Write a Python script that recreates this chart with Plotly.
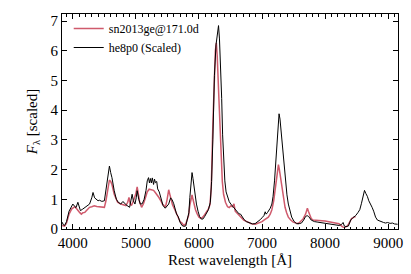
import plotly.graph_objects as go

# he8p0 (Scaled) model spectrum
model_wave = [3830, 3850, 3870, 3900, 3940, 3980, 4000, 4030, 4050, 4080, 4100, 4120, 4150, 4190, 4230,
              4265, 4300, 4320, 4345, 4370, 4400, 4420, 4460, 4500, 4525, 4555, 4580, 4600, 4620, 4656,
              4690, 4720, 4760, 4790, 4810, 4840, 4865, 4900, 4920, 4940, 4960, 4985, 5005, 5020, 5045,
              5070, 5100, 5130, 5160, 5180, 5200, 5215, 5230, 5245, 5260, 5280, 5295, 5310, 5330, 5345,
              5370, 5390, 5410, 5430, 5465, 5490, 5520, 5550, 5575, 5600, 5620, 5645, 5670, 5700, 5730,
              5760, 5790, 5810, 5840, 5855, 5875, 5890, 5905, 5920, 5940, 5960, 5985, 6010, 6040, 6065,
              6090, 6120, 6150, 6180, 6200, 6220, 6245, 6270, 6290, 6310, 6325, 6340, 6360, 6375, 6395,
              6410, 6430, 6453, 6480, 6505, 6530, 6560, 6585, 6610, 6635, 6660, 6690, 6715, 6750, 6780,
              6815, 6850, 6890, 6930, 6975, 7000, 7030, 7050, 7065, 7085, 7105, 7130, 7156, 7175, 7198,
              7215, 7234, 7255, 7270, 7285, 7302, 7320, 7340, 7360, 7375, 7395, 7417, 7445, 7470, 7510,
              7547, 7590, 7625, 7660, 7690, 7715, 7740, 7780, 7830, 7886, 7950, 8040, 8130, 8220, 8260,
              8285, 8305, 8330, 8370, 8406, 8440, 8484, 8520, 8550, 8575, 8600, 8625, 8645, 8670, 8693,
              8720, 8745, 8770, 8800, 8830, 8875, 8927, 8960, 8990, 9030, 9070, 9100, 9150]
model_flux = [0.23, 0.14, 0.12, 0.25, 0.6, 0.79, 0.84, 0.76, 0.72, 0.9, 0.75, 0.62, 0.66, 0.72, 0.78,
              0.84, 1.05, 1.23, 1.05, 1.0, 0.95, 0.97, 0.93, 0.95, 1.29, 1.8, 2.12, 1.9, 1.73, 1.29,
              1.0, 0.9, 0.84, 0.92, 0.9, 0.82, 0.79, 0.73, 0.95, 1.17, 0.95, 0.84, 1.05, 1.29, 1.0,
              0.84, 0.85, 1.0, 1.3, 1.62, 1.73, 1.55, 1.7, 1.55, 1.72, 1.5, 1.68, 1.56, 1.6, 1.35,
              1.25, 1.06, 0.9, 0.79, 0.7, 0.75, 0.84, 1.05, 0.98, 0.85, 0.67, 0.5, 0.42, 0.23, 0.12,
              0.09, 0.1, 0.25, 0.55, 1.06, 1.55, 1.9, 1.7, 1.45, 1.1, 0.84, 0.6, 0.42, 0.33, 0.34,
              0.42, 0.52, 0.65, 0.9, 1.6, 3.0, 5.16, 6.2, 6.6, 6.85, 6.4, 5.7, 4.4, 3.17, 2.2,
              1.62, 1.25, 1.06, 0.92, 0.84, 0.78, 0.68, 0.62, 0.58, 0.51, 0.5, 0.4, 0.32, 0.25, 0.22,
              0.18, 0.17, 0.18, 0.24, 0.32, 0.38, 0.45, 0.58, 0.5, 0.55, 0.6, 0.7, 0.84, 1.1, 1.62,
              2.2, 2.95, 3.6, 3.88, 3.7, 3.28, 2.9, 2.39, 1.9, 1.5, 1.15, 0.84, 0.6, 0.4, 0.25,
              0.18, 0.18, 0.2, 0.3, 0.42, 0.45, 0.42, 0.3, 0.25, 0.23, 0.21, 0.18, 0.15, 0.12, 0.15,
              0.22, 0.1, 0.08, 0.1, 0.3, 0.38, 0.45, 0.55, 0.65, 0.85, 1.1, 1.3, 1.2, 1.1, 0.95,
              0.85, 0.73, 0.6, 0.4, 0.3, 0.25, 0.22, 0.2, 0.22, 0.19, 0.2, 0.17, 0.16]

# sn2013ge@171.0d observed spectrum
obs_wave = [3830, 3870, 3900, 3940, 3980, 4030, 4060, 4080, 4110, 4135, 4160, 4190, 4230, 4265, 4300,
            4340, 4380, 4420, 4460, 4500, 4525, 4550, 4580, 4600, 4620, 4656, 4690, 4710, 4760, 4800,
            4840, 4870, 4890, 4910, 4930, 4970, 5000, 5020, 5040, 5060, 5090, 5120, 5155, 5180, 5210,
            5250, 5280, 5310, 5340, 5365, 5395, 5420, 5450, 5470, 5495, 5520, 5540, 5560, 5580, 5610,
            5645, 5675, 5700, 5730, 5760, 5790, 5810, 5835, 5855, 5875, 5890, 5905, 5920, 5945, 5970,
            6000, 6030, 6060, 6090, 6120, 6150, 6175, 6195, 6220, 6240, 6260, 6275, 6290, 6312, 6330,
            6350, 6370, 6390, 6420, 6453, 6480, 6505, 6530, 6555, 6575, 6610, 6640, 6670, 6710, 6770,
            6830, 6895, 6950, 7000, 7025, 7060, 7100, 7130, 7156, 7185, 7208, 7235, 7260, 7275, 7286,
            7305, 7323, 7345, 7365, 7390, 7417, 7455, 7495, 7540, 7573, 7610, 7651, 7690, 7719, 7735,
            7755, 7780, 7807, 7850, 7900, 7950, 8000, 8040, 8080, 8120, 8170, 8220, 8276, 8310, 8354,
            8380, 8420, 8460, 8484]
obs_flux = [0.12, 0.1, 0.2, 0.5, 0.67, 0.75, 0.68, 0.62, 0.55, 0.5, 0.55, 0.56, 0.66, 0.73, 0.75,
            0.78, 0.76, 0.75, 0.74, 0.73, 0.95, 1.3, 1.65, 1.6, 1.5, 1.17, 1.0, 0.9, 0.84, 0.82,
            0.79, 0.9, 1.06, 0.85, 0.79, 1.0, 1.2, 1.42, 1.15, 0.9, 0.73, 0.85, 1.08, 1.25, 1.34,
            1.32, 1.3, 1.22, 1.15, 1.06, 0.95, 0.84, 0.78, 0.75, 1.0, 1.32, 1.15, 0.95, 0.82, 0.68,
            0.5, 0.35, 0.25, 0.2, 0.12, 0.17, 0.28, 0.45, 0.8, 1.05, 1.15, 1.0, 0.86, 0.65, 0.52,
            0.4, 0.36, 0.4, 0.48, 0.56, 0.68, 0.82, 1.4, 3.5, 5.2, 6.0, 6.27, 5.8, 4.6, 3.5,
            2.4, 1.6, 1.17, 0.9, 0.75, 0.72, 0.78, 0.75, 0.85, 0.6, 0.52, 0.45, 0.38, 0.3, 0.24,
            0.18, 0.16, 0.2, 0.25, 0.29, 0.33, 0.4, 0.5, 0.65, 0.95, 1.29, 1.8, 2.17, 2.0, 1.84,
            1.5, 1.17, 0.92, 0.73, 0.55, 0.4, 0.3, 0.23, 0.2, 0.18, 0.25, 0.34, 0.5, 0.7, 0.6,
            0.48, 0.35, 0.3, 0.3, 0.3, 0.28, 0.27, 0.25, 0.23, 0.21, 0.2, 0.18, 0.07, 0.05, 0.1,
            0.22, 0.35, 0.4, 0.42]

obs_label = "sn2013ge@171.0d"
model_label = "he8p0 (Scaled)"
xticks = [4000, 5000, 6000, 7000, 8000, 9000]
yticks = [0, 1, 2, 3, 4, 5, 6, 7]

FONT = "Liberation Serif"

fig = go.Figure()
fig.add_trace(go.Scatter(x=obs_wave, y=obs_flux, mode="lines", name=obs_label,
                         line=dict(color="#cf5a6c", width=1.5)))
fig.add_trace(go.Scatter(x=model_wave, y=model_flux, mode="lines", name=model_label,
                         line=dict(color="black", width=1)))

axis_common = dict(showline=True, linecolor="black", linewidth=1, mirror="allticks",
                   ticks="inside", ticklen=5, tickwidth=1, tickcolor="black",
                   showgrid=False, zeroline=False,
                   tickfont=dict(family=FONT, size=15, color="black"))

fig.update_xaxes(range=[3828, 9156], tickvals=xticks, ticktext=[str(v) for v in xticks],
                 minor=dict(ticks="inside", ticklen=2.5, dtick=100, tick0=0, tickcolor="black", showgrid=False),
                 title=dict(text="Rest wavelength [Å]", font=dict(family=FONT, size=15, color="black"), standoff=4),
                 **axis_common)
fig.update_yaxes(range=[0, 7.24], tickvals=yticks, ticktext=[str(v) for v in yticks],
                 title=dict(text="<i>F</i><sub>λ</sub> [scaled]", font=dict(family=FONT, size=15, color="black"), standoff=9),
                 **axis_common)

fig.update_layout(width=411, height=274, margin=dict(l=62, r=8, t=14, b=42),
                  plot_bgcolor="white", paper_bgcolor="white",
                  legend=dict(x=0.02, y=1.0, xanchor="left", yanchor="top", bgcolor="rgba(0,0,0,0)",
                              font=dict(family=FONT, size=12, color="black"), tracegroupgap=0),
                  showlegend=True)

fig.write_html("out.html", config={"displayModeBar": False},
               post_script="document.body.style.margin='0';document.body.style.overflow='hidden';")
